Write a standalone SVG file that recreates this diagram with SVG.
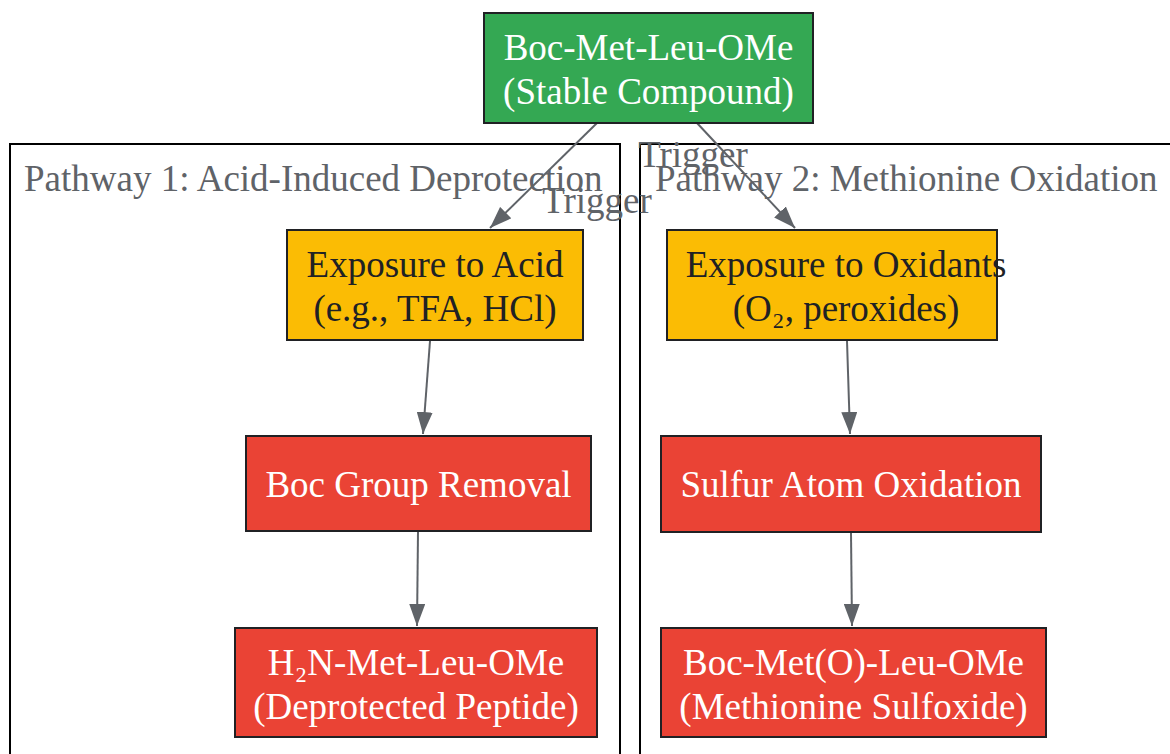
<svg xmlns="http://www.w3.org/2000/svg" width="1170" height="754" viewBox="0 0 1170 754">
<style>
text{font-family:"Liberation Serif","Times New Roman",serif;font-size:37px;text-anchor:middle}
.cl{fill:none;stroke:#000;stroke-width:2}
.clt{fill:#5f6368;text-anchor:start}
.node rect{stroke:#202124;stroke-width:2}
.g rect{fill:#34a853}.y rect{fill:#fbbc04}.r rect{fill:#ea4335}
.g text,.r text{fill:#fff}.y text{fill:#202124}
.e{stroke:#5f6368;stroke-width:2;fill:none;marker-end:url(#ah)}
.el{fill:#5f6368}
</style>
<defs>
<marker id="ah" viewBox="0 0 22 16" refX="22" refY="8" markerWidth="22" markerHeight="16" markerUnits="userSpaceOnUse" orient="auto">
<path d="M0,0L22,8L0,16Z" fill="#5f6368"/>
</marker>
</defs>
<g id="cluster1"><rect class="cl" x="10" y="144" width="610" height="620"/><text class="clt" x="24" y="191">Pathway 1: Acid-Induced Deprotection</text></g>
<g id="cluster2"><rect class="cl" x="640" y="144" width="540" height="620"/><text class="clt" x="655" y="191">Pathway 2: Methionine Oxidation</text></g>
<g id="connectors">
<path class="e" d="M597,123L490,228"/>
<text class="el" x="597" y="213">Trigger</text>
<path class="e" d="M697,123L795,228"/>
<text class="el" x="693" y="167">Trigger</text>
<path class="e" d="M430,341L423,434"/>
<path class="e" d="M847,341L850,434"/>
<path class="e" d="M418,532L417,626"/>
<path class="e" d="M851,533L852,626"/>
</g>
<g id="n_start" class="node g"><rect x="484" y="13" width="329" height="110"/><text x="648.5" y="60">Boc-Met-Leu-OMe</text><text x="648.5" y="104">(Stable Compound)</text></g>
<g id="n_acid" class="node y"><rect x="287" y="230" width="296" height="110"/><text x="435" y="277">Exposure to Acid</text><text x="435" y="321">(e.g., TFA, HCl)</text></g>
<g id="n_ox" class="node y"><rect x="667" y="230" width="330" height="110"/><text x="846" y="277">Exposure to Oxidants</text><text x="846" y="321">(O₂, peroxides)</text></g>
<g id="n_boc" class="node r"><rect x="246" y="436" width="345" height="95"/><text x="418.5" y="497">Boc Group Removal</text></g>
<g id="n_sulf" class="node r"><rect x="661" y="436" width="380" height="96"/><text x="851" y="497">Sulfur Atom Oxidation</text></g>
<g id="n_dep" class="node r"><rect x="235" y="628" width="362" height="109"/><text x="416" y="675">H₂N-Met-Leu-OMe</text><text x="416" y="719">(Deprotected Peptide)</text></g>
<g id="n_sulfox" class="node r"><rect x="661" y="628" width="385" height="109"/><text x="853.5" y="675">Boc-Met(O)-Leu-OMe</text><text x="853.5" y="719">(Methionine Sulfoxide)</text></g>
</svg>
